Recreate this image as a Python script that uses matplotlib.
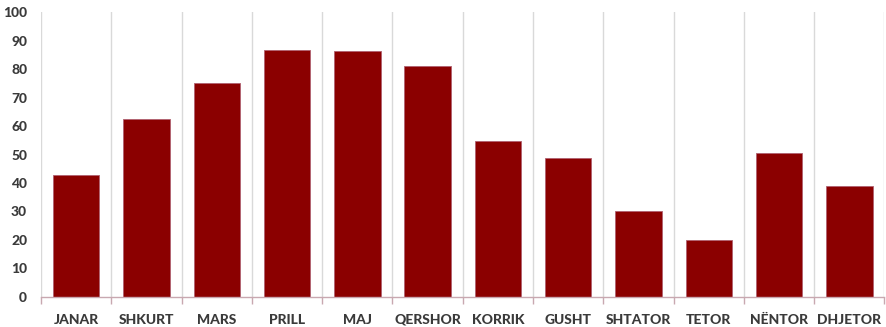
import matplotlib
matplotlib.use("Agg")
import matplotlib.pyplot as plt
import numpy as np

categories = ["JANAR", "SHKURT", "MARS", "PRILL", "MAJ", "QERSHOR", "KORRIK",
              "GUSHT", "SHTATOR", "TETOR", "NËNTOR", "DHJETOR"]
values = [42.8, 62.5, 75.2, 86.7, 86.4, 81.0, 54.7, 48.8, 30.2, 20.0, 50.6, 39.0]
yticks = [0, 10, 20, 30, 40, 50, 60, 70, 80, 90, 100]

plt.rcParams['font.family'] = ['Lato', 'DejaVu Sans']

fig = plt.figure(figsize=(8.86, 3.27), dpi=100)
ax = fig.add_axes([0.0463, 0.092, 0.952, 0.871])

x = np.arange(len(categories))
ax.bar(x, values, width=0.66, color="#8B0000", edgecolor="#B06070", linewidth=0.6, zorder=3)

ax.set_xlim(-0.5, len(categories) - 0.5)
ax.set_ylim(0, 100)
ax.set_yticks(yticks)
ax.set_yticklabels([str(v) for v in yticks], fontsize=10, fontweight='black', color="#3A3A3A")

ax.set_xticks(x)
ax.set_xticklabels(categories, fontsize=10, fontweight='black', color="#3A3A3A")
ax.tick_params(axis='x', length=0, pad=12)
ax.tick_params(axis='y', length=0, pad=10)

# category boundary gridlines and ticks
bounds = np.arange(-0.5, len(categories) + 0.5, 1.0)
for b in bounds:
    ax.axvline(b, color="#D9D9D9", linewidth=1.0, zorder=1)
ax.set_xticks(bounds, minor=True)
ax.tick_params(axis='x', which='minor', length=5, color="#C8A8B0", width=1)

for s in ["top", "right", "left"]:
    ax.spines[s].set_visible(False)
ax.spines["bottom"].set_color("#C8A8B0")
ax.spines["bottom"].set_linewidth(1.0)
ax.spines["bottom"].set_zorder(4)

fig.savefig("out.png", dpi=100)
